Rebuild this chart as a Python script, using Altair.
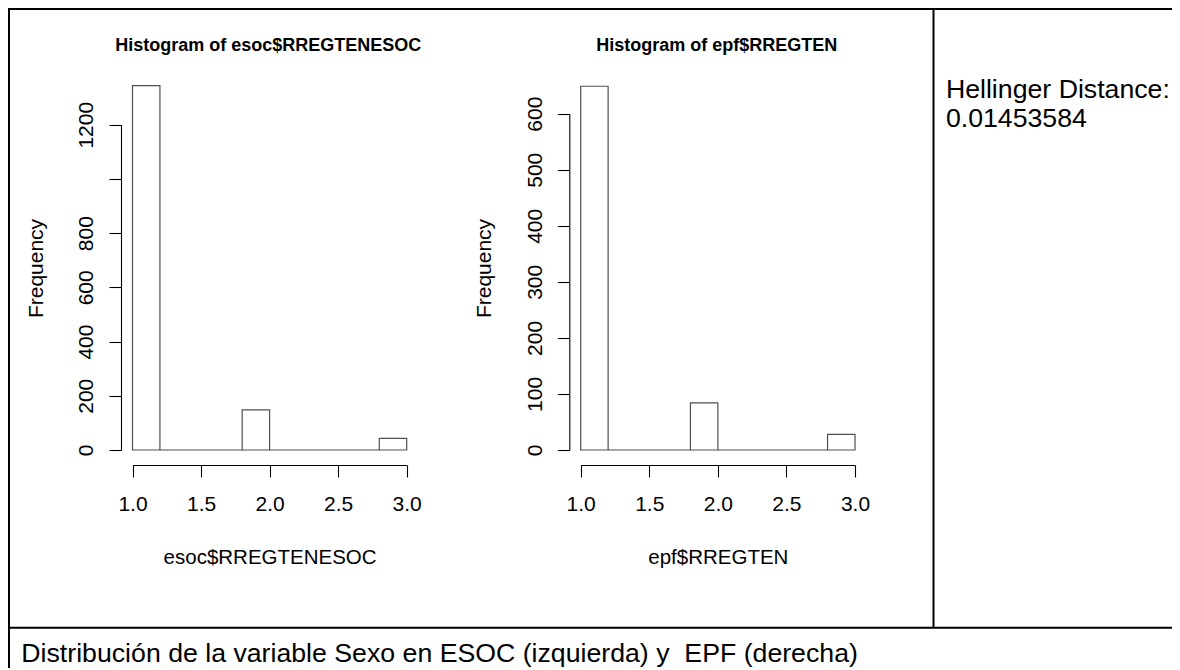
import altair as alt
import pandas as pd

# ---------------- data ----------------
bin_starts = [1.0, 1.2, 1.4, 1.6, 1.8, 2.0, 2.2, 2.4, 2.6, 2.8]
bin_ends = [1.2, 1.4, 1.6, 1.8, 2.0, 2.2, 2.4, 2.6, 2.8, 3.0]
esoc_counts = [1344, 0, 0, 0, 148, 0, 0, 0, 0, 43]
epf_counts = [649, 0, 0, 0, 84, 0, 0, 0, 0, 28]
x_tick_values = [1.0, 1.5, 2.0, 2.5, 3.0]
esoc_y_ticks = [0, 200, 400, 600, 800, 1000, 1200]
esoc_hidden_label = 1000          # R dropped this label (overlap)
epf_y_ticks = [0, 100, 200, 300, 400, 500, 600]

esoc_title = "Histogram of esoc$RREGTENESOC"
epf_title = "Histogram of epf$RREGTEN"
esoc_xlabel = "esoc$RREGTENESOC"
epf_xlabel = "epf$RREGTEN"
y_label = "Frequency"
hellinger_label = "Hellinger Distance:"
hellinger_value = "0.01453584"
caption = "Distribución de la variable Sexo en ESOC (izquierda) y \u00a0EPF (derecha)"

# ---------------- layout (plot coordinates = page - 8px) ----------------
W, H = 1164, 660
FONT = "Liberation Sans, Arial, sans-serif"
BASE_Y = 442           # pixel of count 0
X_AXIS_Y = 457         # pixel of x axis line
BAR_STROKE = "#505050"


def histogram(counts, y_max_tick, y_ticks, x_range, y_top_px, y_axis_x, xlabel, label_expr=None):
    df = pd.DataFrame({"start": bin_starts, "end": bin_ends, "count": counts})
    common = dict(
        domainColor="black", domainWidth=1.1, tickColor="black", tickWidth=1.1,
        tickSize=12, labelFont=FONT, labelFontSize=21, labelColor="black",
        titleFont=FONT, titleFontWeight="normal", titleColor="black",
        grid=False, labelOverlap=False, labelFlush=False,
    )
    y_kw = dict(common)
    if label_expr is not None:
        y_kw["labelExpr"] = label_expr
    x_axis = alt.Axis(
        orient="bottom", offset=X_AXIS_Y - H, values=x_tick_values, format=".1f",
        labelAngle=0, labelBaseline="middle", labelAlign="center", labelPadding=27.9,
        title=xlabel, titleFontSize=20.5, titleBaseline="middle", titleAlign="center",
        titleAngle=0, titleX=(x_range[0] + x_range[1]) / 2, titleY=92, **common,
    )
    y_axis = alt.Axis(
        orient="left", offset=-y_axis_x, values=y_ticks, format="d",
        labelAngle=270, labelBaseline="middle", labelAlign="center", labelPadding=22.3,
        title=y_label, titleFontSize=21, titleBaseline="middle", titleAlign="center",
        titleAngle=270, titleX=-85, titleY=260, **y_kw,
    )
    return alt.Chart(df).mark_rect(fill="white", stroke=BAR_STROKE, strokeWidth=1.2).encode(
        x=alt.X("start:Q", scale=alt.Scale(domain=[1, 3], range=list(x_range), nice=False, zero=False), axis=x_axis),
        x2=alt.X2("end:Q"),
        y=alt.Y("count:Q", scale=alt.Scale(domain=[0, y_max_tick], range=[BASE_Y, y_top_px], nice=False, zero=True), axis=y_axis),
        y2=alt.datum(0),
    )


left_hist = histogram(
    esoc_counts, max(esoc_y_ticks), esoc_y_ticks, (124.5, 398.7), 116.7, 113, esoc_xlabel,
    label_expr=f"datum.value == {esoc_hidden_label} ? '' : datum.label",
)
right_hist = histogram(
    epf_counts, max(epf_y_ticks), epf_y_ticks, (572.7, 847.0), 105.7, 561.3, epf_xlabel,
)


def text_layer(txt, x, y, size, weight="normal", align="left", baseline="alphabetic"):
    return alt.Chart(pd.DataFrame({"t": [txt]})).mark_text(
        font=FONT, fontSize=size, fontWeight=weight, align=align, baseline=baseline, color="black"
    ).encode(text="t:N", x=alt.value(x), y=alt.value(y))


def hrule(y, x1, x2):
    return alt.Chart(pd.DataFrame({"a": [0]})).mark_rule(color="black", strokeWidth=2).encode(
        x=alt.value(x1), x2=alt.value(x2), y=alt.value(y))


def vrule(x, y1, y2):
    return alt.Chart(pd.DataFrame({"a": [0]})).mark_rule(color="black", strokeWidth=2).encode(
        x=alt.value(x), y=alt.value(y1), y2=alt.value(y2))


layers = [
    hrule(1, 0, W),            # top border
    hrule(619.7, 0, W),        # row divider
    vrule(1, 0, H),            # left border
    vrule(925.5, 0, 619.7),    # column divider
    left_hist,
    right_hist,
    text_layer(esoc_title, 260.3, 38.3, 18, weight="bold", align="center", baseline="middle"),
    text_layer(epf_title, 708.7, 38.3, 18, weight="bold", align="center", baseline="middle"),
    text_layer(hellinger_label, 937.9, 89.5, 26.7),
    text_layer(hellinger_value, 937.9, 118.5, 26.7),
    text_layer(caption, 13.3, 653.7, 26.7),
]

chart = alt.layer(*layers).resolve_scale(x="independent", y="independent").properties(
    width=W, height=H, padding=0, background="white",
    autosize=alt.AutoSizeParams(type="none"),
).configure_view(strokeWidth=0)

chart.save("out.html", embed_options={"renderer": "svg", "actions": False})
